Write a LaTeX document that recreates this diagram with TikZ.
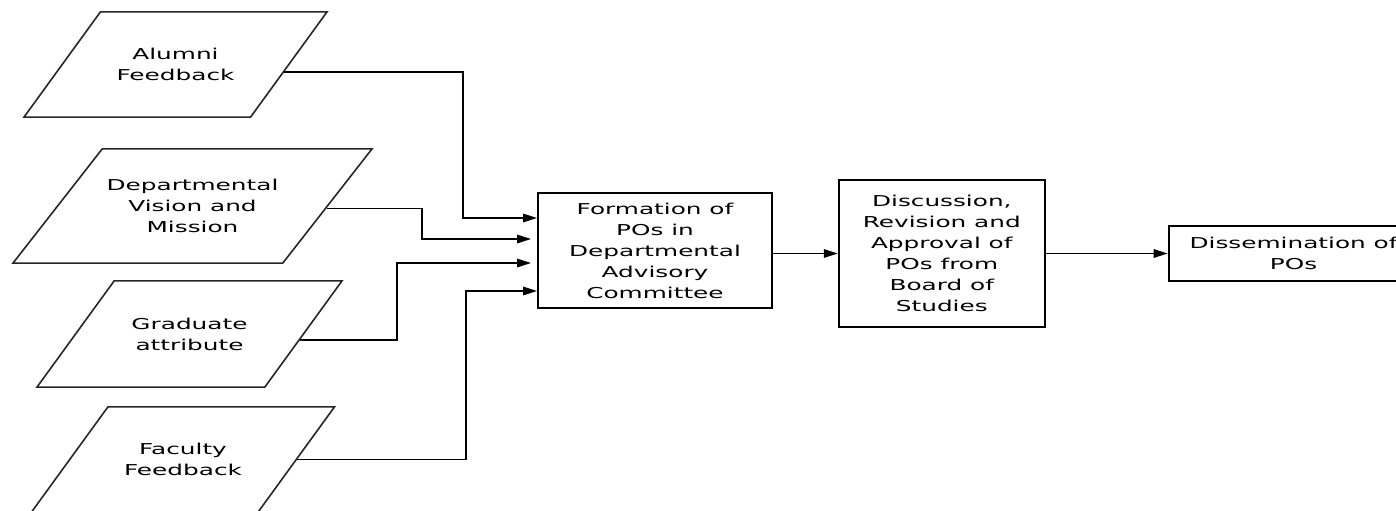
\documentclass[tikz,border=0pt]{standalone}
\usepackage{fontspec}
\setmainfont{DejaVu Sans}[FakeStretch=1.65]
\usetikzlibrary{arrows.meta,positioning,shapes.geometric,calc}

\begin{document}
\begin{tikzpicture}[x=.5pt, y=.5pt, font=\fontsize{7.5pt}{10.5pt}\selectfont,
 para/.style={trapezium, trapezium left angle=54, trapezium right angle=126, trapezium stretches body, draw=black!85, line width=.8pt, align=center, inner xsep=1pt, inner ysep=18.15pt, minimum width=151.5pt},
 box/.style={draw, line width=.9pt, align=center, inner sep=2pt},
 arr/.style={-{Triangle[length=7pt, width=4.2pt]}, line width=.8pt}]
\useasboundingbox (0,0) rectangle (1396,510);
\node[para] (alumni) at (175.5,445.5) {Alumni\\Feedback};
\node[para, trapezium left angle=52, trapezium right angle=128, inner ysep=15.15pt, minimum width=179.5pt] (vision) at (192.5,304) {Departmental\\Vision and\\Mission};
\node[para, inner ysep=18.4pt, minimum width=152.5pt] (attrib) at (189.5,176) {Graduate\\attribute};
\node[para] (faculty) at (183,50.5) {Faculty\\Feedback};
\node[box, minimum width=117pt, minimum height=57.5pt] (form) at (655,259.5) {Formation of\\POs in\\Departmental\\Advisory\\Committee};
\node[box, minimum width=103pt, minimum height=73.5pt, right=32.5pt of form, yshift=-1.5pt] (disc) {Discussion,\\Revision and\\Approval of\\POs from\\Board of\\Studies};
\node[box, minimum width=125pt, minimum height=27.5pt, right=61pt of disc] (diss) {Dissemination of\\POs};
\coordinate (in1) at ($(form.west)+(0,32.5)$);
\coordinate (in2) at ($(form.west)+(0,11.5)$);
\coordinate (in3) at ($(form.west)+(0,-12.5)$);
\coordinate (in4) at ($(form.west)+(0,-40.5)$);
\draw[arr] (alumni.-4) -| ($(in1)+(-74,0)$) -- (in1);
\draw[arr, shorten >=3pt] (vision.-1) -| ($(in2)+(-115,0)$) -- (in2);
\draw[arr, shorten >=3pt] (attrib.-3) -| ($(in3)+(-140,0)$) -- (in3);
\draw[arr] (faculty.east) -| ($(in4)+(-71,0)$) -- (in4);
\draw[arr] (form.east |- disc.west) -- (disc.west);
\draw[arr] (disc) -- (diss);
\end{tikzpicture}
\end{document}
